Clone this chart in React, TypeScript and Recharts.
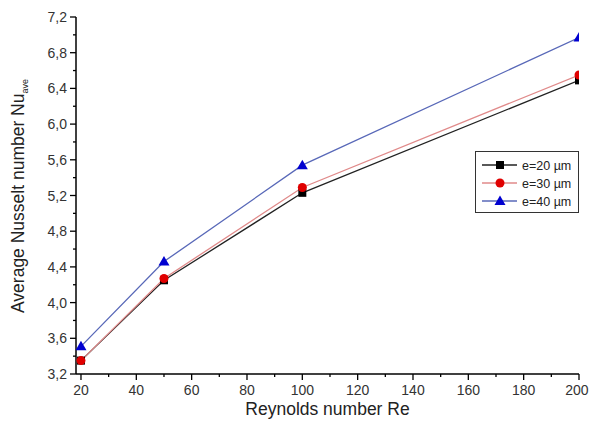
import React from 'react';
import { LineChart, Line, XAxis, YAxis } from 'recharts';

const reynolds = [20, 50, 100, 200];
const nuE20 = [3.35, 4.25, 5.23, 6.49];
const nuE30 = [3.35, 4.27, 5.29, 6.55];
const nuE40 = [3.51, 4.46, 5.54, 6.97];
const seriesNames = ['e=20 \u00b5m', 'e=30 \u00b5m', 'e=40 \u00b5m'];
const xTicks = [20, 30, 40, 50, 60, 70, 80, 90, 100, 110, 120, 130, 140, 150, 160, 170, 180, 190, 200];
const yTicks = [3.2, 3.4, 3.6, 3.8, 4.0, 4.2, 4.4, 4.6, 4.8, 5.0, 5.2, 5.4, 5.6, 5.8, 6.0, 6.2, 6.4, 6.6, 6.8, 7.0, 7.2];

const data = reynolds.map((re, i) => ({ re, a: nuE20[i], b: nuE30[i], c: nuE40[i] }));

const FONT = '"Liberation Sans", Arial, sans-serif';

const XTick = (props: any) => {
  const { x, y, payload } = props;
  const major = payload.value % 20 === 0;
  const last = payload.value === xTicks[xTicks.length - 1];
  return (
    <g>
      <line x1={x} x2={x} y1={y} y2={y + (major ? 6 : 3)} stroke="#000" strokeWidth={1.3} />
      {major && (
        <text
          x={last ? x + 9.5 : x}
          y={y + 21}
          textAnchor={last ? 'end' : 'middle'}
          fontSize={14}
          fill="#333"
          fontFamily={FONT}
        >
          {payload.value}
        </text>
      )}
    </g>
  );
};

const YTick = (props: any) => {
  const { x, y, payload, index } = props;
  const major = index % 2 === 0;
  return (
    <g>
      <line x1={x} x2={x - (major ? 6 : 3)} y1={y} y2={y} stroke="#000" strokeWidth={1.3} />
      {major && (
        <text x={x - 9} y={y + 5} textAnchor="end" fontSize={14} fill="#333" fontFamily={FONT}>
          {payload.value.toFixed(1).replace('.', ',')}
        </text>
      )}
    </g>
  );
};

const Square = (props: any) => {
  const { cx, cy } = props;
  return <rect x={cx - 4} y={cy - 4} width={8} height={8} fill="#000" />;
};
const Dot = (props: any) => {
  const { cx, cy } = props;
  return <circle cx={cx} cy={cy} r={4.5} fill="#e00000" />;
};
const Tri = (props: any) => {
  const { cx, cy } = props;
  return <polygon points={`${cx},${cy - 5.5} ${cx + 5.5},${cy + 4} ${cx - 5.5},${cy + 4}`} fill="#0000d0" />;
};

const legendItems = [
  { name: seriesNames[0], line: '#222', marker: 'square' },
  { name: seriesNames[1], line: '#e08a8a', marker: 'circle' },
  { name: seriesNames[2], line: '#5868b8', marker: 'tri' },
];

const LegendBox = () => (
  <svg width={104} height={62} style={{ display: 'block' }}>
    <rect x={0.5} y={0.5} width={103} height={61} fill="#fff" stroke="#333" strokeWidth={1} />
    {legendItems.map((it, i) => {
      const cy = 14 + i * 18;
      return (
        <g key={i}>
          <line x1={7} x2={42} y1={cy} y2={cy} stroke={it.line} strokeWidth={1.3} />
          {it.marker === 'square' && <rect x={21} y={cy - 4} width={8} height={8} fill="#000" />}
          {it.marker === 'circle' && <circle cx={25} cy={cy} r={4.5} fill="#e00000" />}
          {it.marker === 'tri' && (
            <polygon points={`25,${cy - 5.5} 30.5,${cy + 4} 19.5,${cy + 4}`} fill="#0000d0" />
          )}
          <text x={47} y={cy + 4.5} fontSize={12.5} fill="#222" fontFamily={FONT}>
            {it.name}
          </text>
        </g>
      );
    })}
  </svg>
);

export default function App() {
  return (
    <div style={{ position: 'absolute', left: 0, top: 0, width: 589, height: 432, background: '#fff' }}>
      <LineChart
        width={589}
        height={432}
        data={data}
        margin={{ top: 17, right: 10, bottom: 0, left: 0 }}
      >
        <XAxis
          dataKey="re"
          type="number"
          domain={[18.2, 200]}
          ticks={xTicks}
          interval={0}
          tick={<XTick />}
          tickLine={false}
          tickSize={0}
          tickMargin={0}
          height={58}
          axisLine={{ stroke: '#000', strokeWidth: 1.5 }}
          allowDataOverflow
          label={{
            value: 'Reynolds number Re',
            position: 'insideBottom',
            offset: 17,
            fontSize: 17.5,
            fill: '#222',
            fontFamily: FONT,
          }}
        />
        <YAxis
          type="number"
          domain={[3.2, 7.2]}
          ticks={yTicks}
          interval={0}
          tick={<YTick />}
          tickLine={false}
          tickSize={0}
          tickMargin={0}
          width={76}
          axisLine={{ stroke: '#000', strokeWidth: 1.5 }}
          allowDataOverflow
          label={{
            content: () => (
              <text
                x={24}
                y={196}
                transform="rotate(-90 24 196)"
                textAnchor="middle"
                fontSize={17.5}
                fill="#222"
                fontFamily={FONT}
              >
                Average Nusselt number Nu
                <tspan fontSize={9} dy={4}>ave</tspan>
              </text>
            ),
          }}
        />
        <Line
          dataKey="a"
          name={seriesNames[0]}
          stroke="#222"
          strokeWidth={1.3}
          dot={<Square />}
          isAnimationActive={false}
        />
        <Line
          dataKey="b"
          name={seriesNames[1]}
          stroke="#e08a8a"
          strokeWidth={1.3}
          dot={<Dot />}
          isAnimationActive={false}
        />
        <Line
          dataKey="c"
          name={seriesNames[2]}
          stroke="#5868b8"
          strokeWidth={1.3}
          dot={<Tri />}
          isAnimationActive={false}
        />
      </LineChart>
      <div style={{ position: 'absolute', left: 475, top: 151 }}>
        <LegendBox />
      </div>
    </div>
  );
}
